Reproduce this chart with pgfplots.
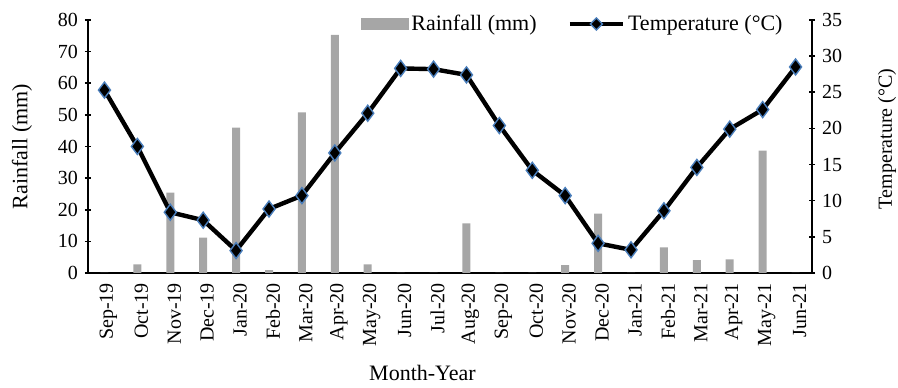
\documentclass[border=0pt]{standalone}
\usepackage{fontspec}
\setmainfont{Liberation Serif}
\usepackage{pgfplots}
\pgfplotsset{compat=1.18}
\definecolor{rainbar}{RGB}{166,166,166}
\definecolor{markedge}{RGB}{74,126,187}

\pgfplotsset{
  common/.style={
    scale only axis, width=362pt, height=126.5pt,
    xmin=-0.5, xmax=21.5,
    /pgf/number format/assume math mode=true,
    tick align=outside, major tick length=3pt,
    ytick style={black, line width=0.8pt},
    yticklabel style={font=\fontsize{10}{12}\selectfont},
    label style={font=\fontsize{11}{13}\selectfont},
  },
  plainlines/.style={
    axis line style={line width=0.9pt, black},
    every outer x axis line/.append style={-},
    every outer y axis line/.append style={-},
    every inner x axis line/.append style={-},
    every inner y axis line/.append style={-},
  }
}

\begin{document}
\begin{tikzpicture}
% Monthly rainfall (left axis)
\begin{axis}[
  common, name=rain,
  axis x line=bottom, axis y line=left, plainlines,
  ymin=0, ymax=80, ytick={0,10,...,80},
  xtick={0,...,21},
  xticklabels={Sep-19,Oct-19,Nov-19,Dec-19,Jan-20,Feb-20,Mar-20,Apr-20,May-20,Jun-20,Jul-20,Aug-20,Sep-20,Oct-20,Nov-20,Dec-20,Jan-21,Feb-21,Mar-21,Apr-21,May-21,Jun-21},
  xtick style={draw=none},
  xticklabel style={rotate=90, anchor=east, yshift=-2pt, font=\fontsize{10}{12}\selectfont},
  xlabel={Month-Year},
  xlabel style={at={(axis description cs:0.462,-0.395)}, anchor=center},
  ylabel={Rainfall (mm)},
  ylabel style={at={(axis description cs:-0.0912,0.5)}, anchor=center},
]
\addplot[ybar, bar width=4pt, fill=rainbar, draw=none] coordinates {
  (0,0) (1,2.7) (2,25.4) (3,11.2) (4,46.0) (5,0.9) (6,50.8) (7,75.3)
  (8,2.7) (9,0) (10,0) (11,15.7) (12,0) (13,0) (14,2.5) (15,18.8)
  (16,0) (17,8.1) (18,4.1) (19,4.3) (20,38.7) (21,0)
};
\end{axis}
% Mean temperature (right axis)
\begin{axis}[
  common,
  axis x line=none, axis y line=right, plainlines,
  ymin=0, ymax=35, ytick={0,5,...,35},
  ylabel={Temperature (°C)},
  ylabel style={at={(axis description cs:1.1036,0.53)}, anchor=center, rotate=0},
  legend columns=2,
  legend style={draw=none, fill=none, at={(rel axis cs:0.67,0.984)}, anchor=center,
    font=\fontsize{11}{13}\selectfont, inner sep=0pt,
    /tikz/every even column/.append style={column sep=14pt},
    nodes={inner sep=1.5pt}},
]
\addlegendimage{legend image code/.code={\fill[rainbar] (0pt,-2.6pt) rectangle (23.5pt,2.6pt);}}
\addlegendentry{Rainfall (mm)}
\addplot[black, line width=2.2pt, mark=diamond*, mark size=4pt,
  mark options={fill=black, draw=markedge, line width=0.7pt},
  legend image code/.code={
    \draw[black, line width=2.2pt] (0pt,0pt) -- (26.5pt,0pt);
    \draw[fill=black, draw=markedge, line width=0.7pt] (13.25pt,0pt) +(-3pt,0) -- +(0,3pt) -- +(3pt,0) -- +(0,-3pt) -- cycle;}
] coordinates {
  (0,25.3) (1,17.5) (2,8.4) (3,7.3) (4,3.1) (5,8.85) (6,10.7) (7,16.6)
  (8,22.1) (9,28.3) (10,28.2) (11,27.4) (12,20.4) (13,14.2) (14,10.7) (15,4.1)
  (16,3.2) (17,8.6) (18,14.6) (19,19.9) (20,22.6) (21,28.5)
};
\addlegendentry{Temperature (°C)}
\end{axis}
\pgfresetboundingbox
\useasboundingbox ([shift={(-44pt,-57.5pt)}]rain.south west) rectangle ([shift={(43pt,10pt)}]rain.north east);
\end{tikzpicture}
\end{document}
